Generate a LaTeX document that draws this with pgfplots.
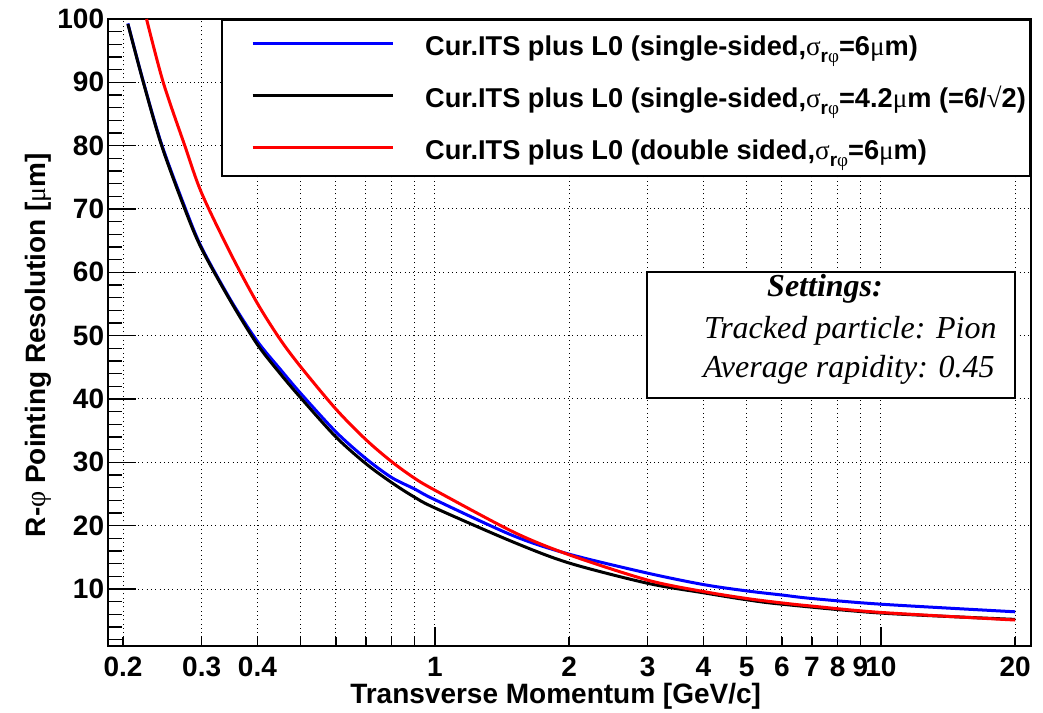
\documentclass[border=0pt]{standalone}
\usepackage{fontspec}
\setmainfont{Liberation Sans}
\newfontfamily\seriffont{Liberation Serif}
\usepackage{pgfplots}
\pgfplotsset{compat=1.18}

% Greek letters in a roman face, as in the symbol font
\newcommand\grk[1]{{\seriffont\mdseries #1}}
\newcommand\rphi{\raisebox{-3.5pt}{\fontsize{9.5pt}{10pt}\selectfont r\grk{φ}}}

\pgfplotstableread{
x      y
0.205  99.3
0.222  90.1
0.244  80.2
0.275  70.3
0.300  63.9
0.350  55.4
0.4    49.1
0.45   44.7
0.5    40.9
0.6    34.8
0.7    30.6
0.8    27.6
0.9    25.8
1.0    24.1
1.5    18.4
2      15.5
3      12.5
4      10.7
5      9.7
6      9.05
7      8.5
10     7.6
20     6.4
}\singlesix

\pgfplotstableread{
x      y
0.205  99.2
0.222  90.0
0.244  80.0
0.275  70.0
0.300  63.7
0.350  55.2
0.4    48.6
0.45   44.0
0.5    40.2
0.6    34.0
0.7    29.8
0.8    26.8
0.9    24.5
1.0    22.8
1.5    17.4
2      14.1
3      10.9
4      9.4
5      8.3
6      7.6
10     6.2
20     5.2
}\singlefour

\pgfplotstableread{
x      y
0.2257 100
0.246  90
0.275  80
0.300  72.5
0.350  62.7
0.4    55.1
0.45   49.4
0.5    45.1
0.6    38.4
0.7    33.6
0.8    30.1
0.9    27.5
1.0    25.6
1.5    19.0
2      15.4
3      11.4
4      9.6
5      8.5
6      7.8
7      7.3
10     6.3
20     5.1
}\doublesix

\begin{document}
\begin{tikzpicture}
\useasboundingbox (-54pt,-33pt) rectangle (467.5pt,323pt);
\begin{axis}[
  at={(0pt,0pt)}, anchor=south west,
  scale only axis, width=461.5pt, height=313.5pt,
  xmode=log, xmin=0.185, xmax=21.7, ymin=1, ymax=100,
  axis line style={line width=1pt},
  tick pos=left, tick align=inside,
  xtick={0.2,0.3,0.4,1,2,3,4,5,6,7,8,9,10,20},
  xticklabels={0.2,0.3,0.4,1,2,3,4,5,6,7,8,9,10,20},
  minor xtick={0.5,0.6,0.7,0.8,0.9},
  extra x ticks={1,10}, extra x tick labels={},
  extra x tick style={grid=none, xtick style={/pgfplots/major tick length=9.5pt}},
  xtick style={/pgfplots/major tick length=4.75pt, /pgfplots/minor tick length=4.75pt, line width=0.75pt, black},
  ytick={10,20,30,40,50,60,70,80,90,100},
  minor ytick={2,4,6,8,12,14,16,18,22,24,26,28,32,34,36,38,42,44,46,48,52,54,56,58,62,64,66,68,72,74,76,78,82,84,86,88,92,94,96,98},
  ytick style={/pgfplots/major tick length=14pt, /pgfplots/minor tick length=7pt, line width=0.75pt, black},
  xmajorgrids, xminorgrids, ymajorgrids,
  grid style={black, line width=0.5pt, dash pattern=on 0.5pt off 1.65pt},
  minor grid style={black, line width=0.5pt, dash pattern=on 0.5pt off 1.65pt},
  /pgf/number format/assume math mode=true,
  ticklabel style={font=\fontsize{14pt}{16pt}\selectfont\bfseries},
  xticklabel style={anchor=base, inner ysep=0pt, yshift=-15pt},
  yticklabel style={anchor=east, inner xsep=0pt, xshift=-1.75pt},
  xlabel={Transverse Momentum [GeV/c]},
  ylabel={R-\grk{φ} Pointing Resolution [\grk{μ}m]},
  every axis x label/.style={at={([yshift=-28.5pt]axis description cs:0.485,0)}, anchor=base,
    inner sep=0pt, font=\fontsize{14pt}{16pt}\selectfont\bfseries},
  every axis y label/.style={at={([xshift=-31pt]axis description cs:0,0.48)}, rotate=90, anchor=base,
    inner sep=0pt, font=\fontsize{14pt}{16pt}\selectfont\bfseries},
  legend style={at={(axis description cs:1,1)}, anchor=north east,
    draw=black, line width=0.8pt, fill=white,
    inner xsep=0pt, inner ysep=0pt,
    nodes={inner sep=0pt, text height=17.85pt, text depth=8.15pt},
    column sep=15.5pt, row sep=0pt,
    font=\fontsize{13.6pt}{15pt}\selectfont\bfseries},
  legend cell align=left,
  legend image code/.code={
    \path[draw=none, fill=none] (0pt,-9pt) -- (0pt,9pt);
    \draw[#1] (15.5pt,1.35pt) -- (85.5pt,1.35pt);
  },
  every axis plot/.append style={line width=1.5pt},
]
\addplot[blue, smooth] table {\singlesix};
\addlegendentry{\makebox[302.5pt][l]{Cur.ITS plus L0 (single-sided,\grk{σ}\rphi=6\grk{μ}m)}}
\addplot[black, smooth] table {\singlefour};
\addlegendentry{\makebox[302.5pt][l]{Cur.ITS plus L0 (single-sided,\grk{σ}\rphi=4.2\grk{μ}m (=6/\grk{√}2)}}
\addplot[red, smooth] table {\doublesix};
\addlegendentry{\makebox[302.5pt][l]{Cur.ITS plus L0 (double sided,\grk{σ}\rphi=6\grk{μ}m)}}
\end{axis}
% settings panel
\draw[line width=0.6pt, fill=white] (269.5pt,124pt) rectangle (453.5pt,187pt);
\begin{scope}[every node/.style={inner sep=0pt, font=\seriffont\itshape\fontsize{16pt}{18pt}\selectfont}]
\node[anchor=base, font=\seriffont\bfseries\itshape\fontsize{16pt}{18pt}\selectfont] at (358.5pt,174.5pt) {Settings:};
\node[anchor=base east] at (444.5pt,153.5pt) {Tracked particle: Pion};
\node[anchor=base east] at (443.5pt,134.4pt) {Average rapidity: 0.45};
\end{scope}
\end{tikzpicture}
\end{document}
